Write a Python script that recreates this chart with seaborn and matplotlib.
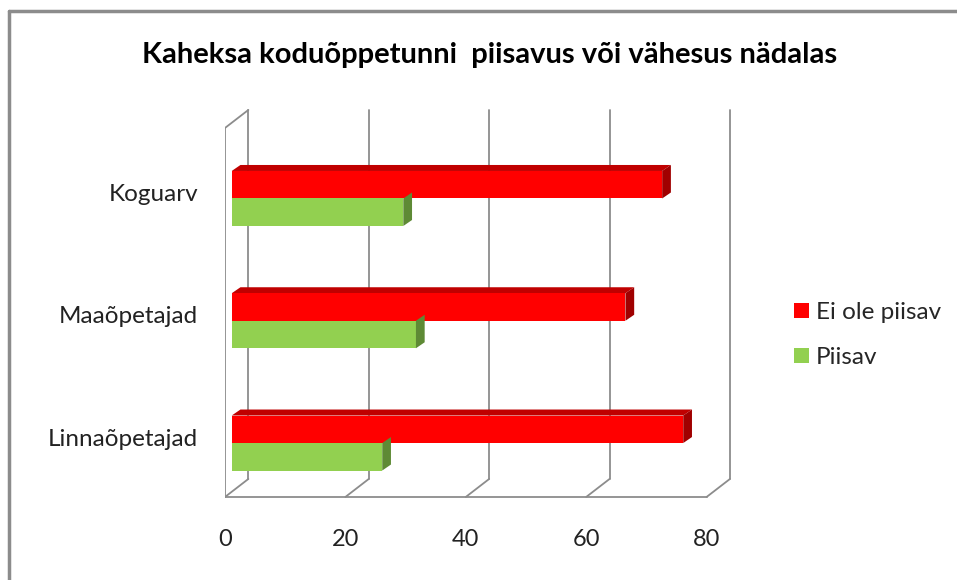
import numpy as np
import pandas as pd
import seaborn as sns
import matplotlib.pyplot as plt
from matplotlib.lines import Line2D
from matplotlib.transforms import ScaledTranslation

categories = ['Koguarv', 'Maaõpetajad', 'Linnaõpetajad']
series = ['Ei ole piisav', 'Piisav']
ei_ole_piisav = [71.5, 65.4, 75.0]
piisav = [28.5, 30.6, 25.0]
ticks = [0, 20, 40, 60, 80]

df = pd.DataFrame({
    'grupp': categories * 2,
    'protsent': ei_ole_piisav + piisav,
    'vastus': [series[0]] * 3 + [series[1]] * 3,
})

sns.set_style('white')
plt.rcParams['font.family'] = ['Lato', 'DejaVu Sans']

fig = plt.figure(figsize=(9.57, 5.8), dpi=100)
ax = fig.add_axes([224.5 / 957, 80 / 580, 506.9 / 957, 392 / 580])
sns.barplot(data=df, y='grupp', x='protsent', hue='vastus', order=categories,
            hue_order=series, orient='h', palette=['#FF0000', '#92D050'],
            width=0.45, saturation=1, linewidth=0, ax=ax)

ax.set_xlim(-1.2, 83)
ax.set_ylim(2.466, -0.740)

# pseudo 3d frame (Excel style)
front, back = -1.11, 2.76
floor_f, floor_b = 2.441, 2.294
top_f, top_b = -0.577, -0.724
gc = '#8C8C8C'
for t in ticks:
    ax.plot([t + back, t + back], [floor_b, top_b], color=gc, lw=1.3, zorder=0.5)
    ax.plot([t + front, t + back], [floor_f, floor_b], color=gc, lw=1.3, zorder=0.5)
ax.plot([front, ticks[-1] + front], [floor_f, floor_f], color=gc, lw=1.3, zorder=0.5)
ax.plot([front, front], [floor_f, top_f], color=gc, lw=1.3, zorder=0.5)
ax.plot([front, back], [top_f, top_b], color=gc, lw=1.3, zorder=0.5)

# depth faces of bars
dx, dy = 1.45, 0.049
shade = {'#FF0000': ('#C00000', '#A00000'), '#92D050': ('#7AB040', '#5E8A35')}
for p in list(ax.patches):
    x0, y0, w, h = p.get_x(), p.get_y(), p.get_width(), p.get_height()
    fc = '#FF0000' if p.get_facecolor()[1] < 0.5 else '#92D050'
    top_c, side_c = shade[fc]
    ax.fill([x0, x0 + w, x0 + w + dx, x0 + dx], [y0, y0, y0 - dy, y0 - dy],
            color=top_c, lw=0, zorder=p.get_zorder() - 0.1)
    ax.fill([x0 + w, x0 + w + dx, x0 + w + dx, x0 + w],
            [y0, y0 - dy, y0 + h - dy, y0 + h], color=side_c, lw=0, zorder=p.get_zorder())

ax.set_xticks([t + front for t in ticks], labels=[str(t) for t in ticks])
ax.tick_params(axis='x', length=0, pad=21, labelsize=17, labelcolor='#222222')
ax.tick_params(axis='y', length=0, pad=19, labelsize=17.5, labelcolor='#222222')
for lab in ax.get_yticklabels():
    lab.set_transform(lab.get_transform() + ScaledTranslation(0, 0.06, fig.dpi_scale_trans))
ax.set_xlabel('')
ax.set_ylabel('')
for s in ax.spines.values():
    s.set_visible(False)

handles, labels = ax.get_legend_handles_labels()
ax.get_legend().remove()
fig.legend(handles, labels, loc='center left', bbox_to_anchor=(794 / 957, 1 - 335 / 580),
           frameon=False, fontsize=17.5, handlelength=0.6, handleheight=0.6,
           handletextpad=0.3, labelspacing=1.0, borderpad=0, borderaxespad=0)

fig.text(490 / 957, 1 - 55 / 580, 'Kaheksa koduõppetunni  piisavus või vähesus nädalas',
         ha='center', va='center', fontsize=21, fontweight='bold', color='black')

fig.add_artist(Line2D([9 / 957, 9 / 957], [0, 1 - 10.5 / 580], color='#8C8C8C', lw=2.5))
fig.add_artist(Line2D([9 / 957, 1], [1 - 10.5 / 580] * 2, color='#8C8C8C', lw=2.5))

fig.savefig('out.png', dpi=100)
